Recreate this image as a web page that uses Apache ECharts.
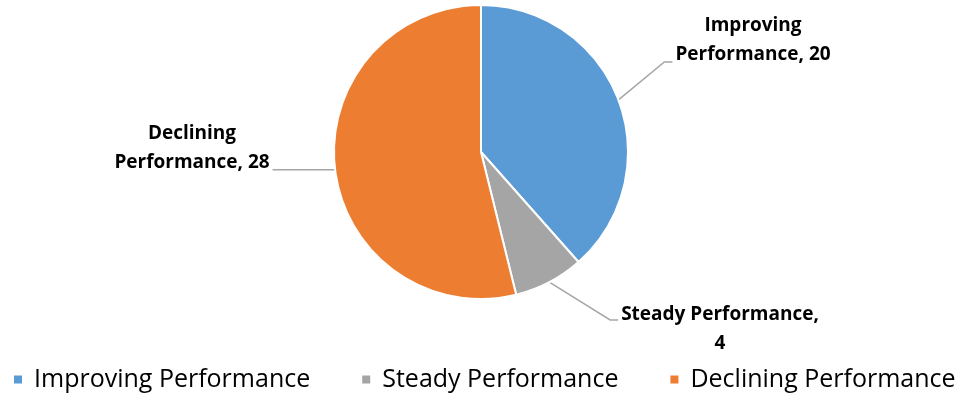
<!DOCTYPE html>
<html>
<head>
<meta charset="utf-8">
<script src="https://cdn.jsdelivr.net/npm/echarts@6/dist/echarts.min.js"></script>
<style>
  html, body { margin: 0; padding: 0; background: #fff; }
  #chart { width: 966px; height: 397px; }
</style>
</head>
<body>
<div id="chart"></div>
<script>
const categories = ['Improving Performance', 'Steady Performance', 'Declining Performance']
const values = [20, 4, 28]
const colors = ['#5B9BD5', '#A5A5A5', '#ED7D31']
// label text, split the way the chart wraps it
const labelTexts = ['Improving\nPerformance, 20', 'Steady Performance,\n4', 'Declining\nPerformance, 28']

const font = '"Open Sans", Lato, sans-serif'

const chart = echarts.init(document.getElementById('chart'), null, {renderer: 'canvas'})

// where each label sits (placed like the original), and where its leader line ends
const labelSpots = [
  {x: 753, y: 40, side: 'right', lineY: 62},
  {x: 720, y: 329, side: 'right', lineY: 320},
  {x: 192, y: 148, side: 'left', lineY: null},
]

chart.setOption({
  animation: false,
  color: colors,
  legend: {
    bottom: 0,
    left: 7,
    itemWidth: 10,
    itemHeight: 10,
    itemGap: 50,
    icon: 'rect',
    textStyle: {fontFamily: font, fontSize: 25, color: '#000', padding: [0, 0, 0, 6]},
    data: categories,
  },
  series: [{
    type: 'pie',
    center: [481, 152],
    radius: 147,
    startAngle: 90,
    clockwise: true,
    itemStyle: {borderColor: '#fff', borderWidth: 2},
    label: {
      show: true,
      formatter: (p) => labelTexts[p.dataIndex],
      fontFamily: font,
      fontWeight: 'bold',
      fontSize: 19,
      lineHeight: 29,
      color: '#000',
      align: 'center',
    },
    labelLine: {show: true, lineStyle: {color: '#A6A6A6', width: 1.5}},
    labelLayout: (params) => {
      const s = labelSpots[params.dataIndex]
      const rect = params.labelRect
      const start = params.labelLinePoints ? params.labelLinePoints[0] : null
      const out = {x: s.x, y: s.y, align: 'center', verticalAlign: 'middle'}
      if (start) {
        if (s.side === 'right') {
          const endX = s.x - rect.width / 2 - 3
          out.labelLinePoints = [start, [endX - 8, s.lineY], [endX, s.lineY]]
        } else {
          const endX = s.x + rect.width / 2 + 3
          out.labelLinePoints = [start, [start[0] - 12, start[1]], [endX, start[1]]]
        }
      }
      return out
    },
    data: categories.map((name, i) => ({name, value: values[i]})),
  }],
})
</script>
</body>
</html>
